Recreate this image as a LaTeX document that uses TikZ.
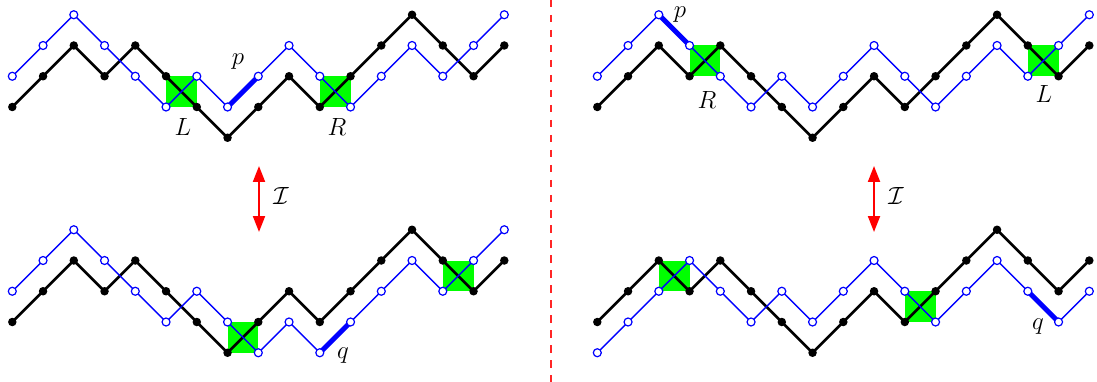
\documentclass[tikz,border=0pt]{standalone}
\usetikzlibrary{arrows.meta}
\newcommand\mkpanel[5]{% prefix, x0, y0, black heights, blue heights
  \begin{scope}[shift={(#2pt,#3pt)},x=30.75pt,y=30.75pt]
    \foreach \h [count=\i from 0] in {#4} {\coordinate (#1k\i) at (\i,\h);}
    \foreach \h [count=\i from 0] in {#5} {\coordinate (#1w\i) at (\i,\h);}
  \end{scope}}
\newcommand\drawblack[1]{\draw[bpath] (#1k0) \foreach \i in {1,...,16} {-- (#1k\i)};}
\newcommand\drawblue[1]{\draw[wpath] (#1w0) \foreach \i in {1,...,16} {-- (#1w\i)};}
\newcommand\drawdots[1]{%
  \foreach \i in {0,...,16} {\node[bdot] (#1kd\i) at (#1k\i) {};}
  \foreach \i in {0,...,16} {\node[wdot] (#1wd\i) at (#1w\i) {};}}
\begin{document}
\begin{tikzpicture}[
  bpath/.style={line width=2.7pt,black,line join=round},
  wpath/.style={line width=1.4pt,blue,line join=round},
  thickseg/.style={line width=5pt,blue},
  bdot/.style={circle,fill=black,inner sep=0pt,minimum size=8.5pt},
  wdot/.style={circle,draw=blue,fill=white,line width=1.2pt,inner sep=0pt,minimum size=8pt},
  gbox/.style={fill=green},
  lbl/.style={font=\fontsize{23}{27}\selectfont,inner sep=0pt},
  iarrow/.style={red,line width=2pt,{Stealth[length=16pt,width=12pt,inset=0pt]}-{Stealth[length=16pt,width=12pt,inset=0pt]}},
  divider/.style={red!85,line width=1.5pt,dash pattern=on 7.5pt off 7.5pt},
]
\useasboundingbox (0,0) rectangle (1097pt,-382pt);

% path vertices
\mkpanel{tl}{12.3}{-107}{0,1,2,1,2,1,0,-1,0,1,0,1,2,3,2,1,2}{1,2,3,2,1,0,1,0,1,2,1,0,1,2,1,2,3}
\mkpanel{bl}{12.3}{-322}{0,1,2,1,2,1,0,-1,0,1,0,1,2,3,2,1,2}{1,2,3,2,1,0,1,0,-1,0,-1,0,1,2,1,2,3}
\mkpanel{tr}{597.3}{-107}{0,1,2,1,2,1,0,-1,0,1,0,1,2,3,2,1,2}{1,2,3,2,1,0,1,0,1,2,1,0,1,2,1,2,3}
\mkpanel{br}{597.3}{-322}{0,1,2,1,2,1,0,-1,0,1,0,1,2,3,2,1,2}{-1,0,1,2,1,0,1,0,1,2,1,0,1,2,1,0,1}

% green boxes
\fill[gbox] (tlk5) rectangle (tlk6);
\fill[gbox] (tlk10) rectangle (tlk11);
\fill[gbox] (blk7) rectangle (blk8);
\fill[gbox] (blk14) rectangle (blk15);
\fill[gbox] (trk3) rectangle (trk4);
\fill[gbox] (trk14) rectangle (trk15);
\fill[gbox] (brk2) rectangle (brk3);
\fill[gbox] (brk10) rectangle (brk11);

% paths
\drawblack{tl}\drawblack{bl}\drawblack{tr}\drawblack{br}
\drawblue{tl}\drawblue{bl}\drawblue{tr}\drawblue{br}

% highlighted steps
\draw[thickseg] (tlw7) -- (tlw8);
\draw[thickseg] (blw10) -- (blw11);
\draw[thickseg] (trw2) -- (trw3);
\draw[thickseg] (brw14) -- (brw15);

% dots
\drawdots{tl}\drawdots{bl}\drawdots{tr}\drawdots{br}

% labels
\node[lbl] (ptl) at (238pt,-62pt) {$p$};
\node[lbl] (Ltl) at (183pt,-127pt) {$L$};
\node[lbl] (Rtl) at (337pt,-127pt) {$R$};
\node[lbl] (qbl) at (343pt,-356pt) {$q$};
\node[lbl] (ptr) at (680pt,-15pt) {$p$};
\node[lbl] (Rtr) at (707pt,-100pt) {$R$};
\node[lbl] (Ltr) at (1044pt,-94pt) {$L$};
\node[lbl] (qbr) at (1038pt,-327pt) {$q$};

% involution arrows
\coordinate (a1t) at (259pt,-166pt);
\coordinate (a1b) at (259pt,-232pt);
\draw[iarrow] (a1t) -- (a1b);
\node[lbl] (I1) at (281pt,-196pt) {$\mathcal{I}$};
\coordinate (a2t) at (874pt,-166pt);
\coordinate (a2b) at (874pt,-232pt);
\draw[iarrow] (a2t) -- (a2b);
\node[lbl] (I2) at (896pt,-196pt) {$\mathcal{I}$};

% divider
\coordinate (dtop) at (551pt,0pt);
\coordinate (dbot) at (551pt,-382pt);
\draw[divider] (dtop) -- (dbot);
\end{tikzpicture}
\end{document}
